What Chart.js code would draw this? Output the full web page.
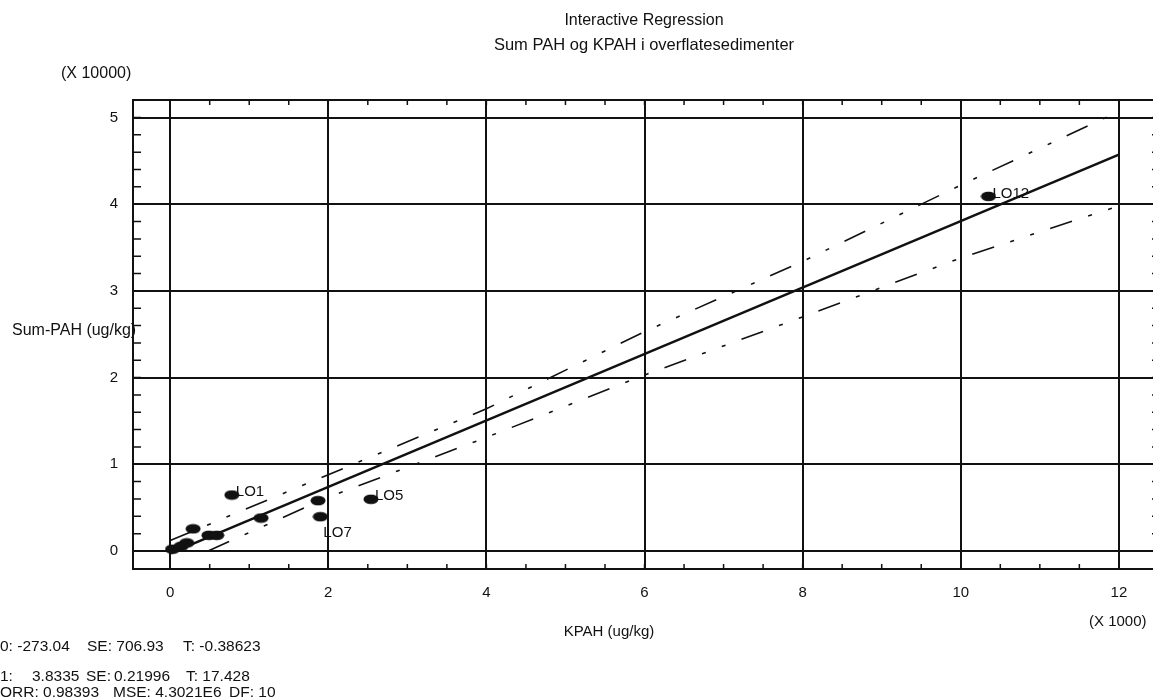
<!DOCTYPE html>
<html>
<head>
<meta charset="utf-8">
<title>Interactive Regression</title>
<script src="https://cdn.jsdelivr.net/npm/chart.js@4.4.1/dist/chart.umd.min.js"></script>
<style>
  html, body { margin: 0; padding: 0; background: #fff; }
  #wrap { position: relative; width: 1153px; height: 700px; overflow: hidden;
          font-family: "Liberation Sans", Arial, Helvetica, sans-serif; color: #111; }
  #chart { position: absolute; left: 0; top: 0; }
  .t { position: absolute; white-space: pre; line-height: 1; font-size: 15px; }
  .s { font-size: 15.5px; }
  .c { transform: translate(-50%, -50%); }
  .l { transform: translateY(-50%); }
</style>
</head>
<body>
<div id="wrap">
  <canvas id="chart" width="1180" height="700"></canvas>

  <div class="t c" style="left:644px; top:20px; font-size:16px;">Interactive Regression</div>
  <div class="t c" style="left:644px; top:44px; font-size:16.5px;">Sum PAH og KPAH i overflatesedimenter</div>
  <div class="t l" style="left:61px; top:73px; font-size:16px;">(X 10000)</div>
  <div class="t l" style="left:12px; top:330px; font-size:16px;">Sum-PAH (ug/kg)</div>
  <div class="t c" style="left:609px; top:630px;">KPAH (ug/kg)</div>
  <div class="t l" style="left:1089px; top:620px;">(X 1000)</div>

  <div class="t l s" style="left:0px; top:646px;">0: -273.04</div>
  <div class="t l s" style="left:87px; top:646px;">SE: 706.93</div>
  <div class="t l s" style="left:183px; top:646px;">T: -0.38623</div>

  <div class="t l s" style="left:0px; top:676px;">1:</div>
  <div class="t l s" style="left:32px; top:676px;">3.8335</div>
  <div class="t l s" style="left:86px; top:676px;">SE:</div>
  <div class="t l s" style="left:114px; top:676px;">0.21996</div>
  <div class="t l s" style="left:186px; top:676px;">T: 17.428</div>

  <div class="t l s" style="left:0px; top:692px;">ORR: 0.98393</div>
  <div class="t l s" style="left:113px; top:692px;">MSE: 4.3021E6</div>
  <div class="t l s" style="left:229px; top:692px;">DF: 10</div>
</div>

<script>
// observations (ug/kg)
const kpah   = [30, 140, 210, 290, 490, 590, 780, 1150, 1870, 1900, 2540, 10350];
const sumPah = [200, 550, 930, 2550, 1800, 1800, 6450, 3800, 5800, 3950, 5960, 40900];
const pointNames = ["", "", "", "", "", "", "LO1", "", "", "LO7", "LO5", "LO12"];

// fitted line and interval bands
const fitX = [0, 12000];
const fitY = [-270, 45730];
const upperX = [0, 2000, 4000, 6000, 8000, 10000, 12000];
const upperY = [1200, 8800, 16400, 25300, 33400, 42200, 50700];
const lowerX = [480, 2000, 4000, 6000, 8000, 10000, 12000];
const lowerY = [0, 6200, 13100, 20300, 27000, 33800, 39800];

// axes
const xTickValues = [0, 2000, 4000, 6000, 8000, 10000, 12000];
const xTickLabels = ["0", "2", "4", "6", "8", "10", "12"];
const yTickValues = [0, 10000, 20000, 30000, 40000, 50000];
const yTickLabels = ["0", "1", "2", "3", "4", "5"];

const ink = "#111";
const fontFamily = '"Liberation Sans", Arial, Helvetica, sans-serif';

function toPoints(xs, ys) {
    return xs.map((x, i) => ({ x: x, y: ys[i] }));
}

// the dots are flat ellipses
const dot = document.createElement("canvas");
dot.width = 16;
dot.height = 11;
const dctx = dot.getContext("2d");
dctx.fillStyle = ink;
dctx.beginPath();
dctx.ellipse(8, 5.5, 7.5, 4.8, 0, 0, Math.PI * 2);
dctx.fill();

const bandDash = [23, 17, 4, 17, 4, 17];

// frame, inward minor ticks and the point names
const decorations = {
    id: "decorations",
    afterDatasetsDraw(chart) {
        const { ctx, chartArea: a, scales } = chart;
        const x = scales.x, y = scales.y;
        ctx.save();
        ctx.strokeStyle = ink;
        ctx.lineWidth = 1.5;
        ctx.beginPath();
        for (let v = -500; v <= 13000; v += 500) {
            const px = x.getPixelForValue(v);
            if (px <= a.left + 2 || px >= a.right - 2) continue;
            ctx.moveTo(px, a.bottom);
            ctx.lineTo(px, a.bottom - 5);
            ctx.moveTo(px, a.top);
            ctx.lineTo(px, a.top + 5);
        }
        for (let v = -2000; v <= 52000; v += 2000) {
            const py = y.getPixelForValue(v);
            if (py <= a.top + 2 || py >= a.bottom - 2) continue;
            ctx.moveTo(a.left, py);
            ctx.lineTo(a.left + 8, py);
            ctx.moveTo(a.right, py);
            ctx.lineTo(a.right - 8, py);
        }
        ctx.stroke();

        ctx.lineWidth = 2;
        ctx.strokeRect(a.left, a.top, a.right - a.left, a.bottom - a.top);

        const meta = chart.getDatasetMeta(0);
        ctx.font = "15px " + fontFamily;
        ctx.fillStyle = ink;
        ctx.textBaseline = "middle";
        meta.data.forEach((pt, i) => {
            const name = pointNames[i];
            if (!name) return;
            if (name === "LO7") {
                ctx.fillText(name, pt.x + 3, pt.y + 16);
            } else {
                ctx.fillText(name, pt.x + 4, pt.y - 3);
            }
        });
        ctx.restore();
    }
};

new Chart(document.getElementById("chart"), {
    type: "scatter",
    data: {
        datasets: [
            {
                label: "Observations",
                data: toPoints(kpah, sumPah),
                pointStyle: dot,
                pointRadius: 5,
                pointHoverRadius: 5
            },
            {
                label: "Fit",
                data: toPoints(fitX, fitY),
                showLine: true,
                borderColor: ink,
                borderWidth: 2.5,
                pointRadius: 0,
                fill: false
            },
            {
                label: "Upper",
                data: toPoints(upperX, upperY),
                showLine: true,
                borderColor: ink,
                borderWidth: 1.6,
                borderDash: bandDash,
                pointRadius: 0,
                fill: false
            },
            {
                label: "Lower",
                data: toPoints(lowerX, lowerY),
                showLine: true,
                borderColor: ink,
                borderWidth: 1.6,
                borderDash: bandDash,
                pointRadius: 0,
                fill: false
            }
        ]
    },
    options: {
        responsive: false,
        animation: false,
        devicePixelRatio: 1,
        layout: { padding: { left: 0, top: 100, right: 20, bottom: 0 } },
        plugins: {
            legend: { display: false },
            title: { display: false },
            tooltip: { enabled: false }
        },
        scales: {
            x: {
                type: "linear",
                min: -470,
                max: 12520,
                afterBuildTicks: s => { s.ticks = xTickValues.map(v => ({ value: v })); },
                afterFit: s => { s.height = 131; },
                grid: { color: ink, lineWidth: 2, drawTicks: false },
                border: { display: false },
                ticks: {
                    color: ink,
                    padding: 15,
                    maxRotation: 0,
                    autoSkip: false,
                    font: { family: fontFamily, size: 15 },
                    callback: (v, i) => xTickLabels[i]
                }
            },
            y: {
                type: "linear",
                min: -2080,
                max: 52020,
                afterBuildTicks: s => { s.ticks = yTickValues.map(v => ({ value: v })); },
                afterFit: s => { s.width = 133; },
                grid: { color: ink, lineWidth: 2, drawTicks: false },
                border: { display: false },
                ticks: {
                    color: ink,
                    padding: 15,
                    autoSkip: false,
                    font: { family: fontFamily, size: 15 },
                    callback: (v, i) => yTickLabels[i]
                }
            }
        }
    },
    plugins: [decorations]
});
</script>
</body>
</html>
